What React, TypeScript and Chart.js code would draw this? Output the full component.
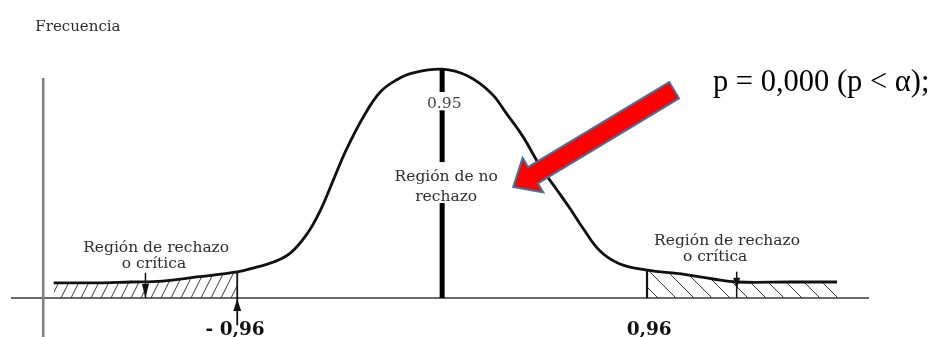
import React, { useEffect, useRef } from "react";
import { Chart, registerables } from "chart.js";

Chart.register(...registerables);

// Curve (x in z units, y in relative frequency, peak = 1)
const curveX = [
  -1.82, -1.65, -1.46, -1.31, -1.15, -0.96, -0.87, -0.79, -0.71, -0.63, -0.57, -0.51, -0.45, -0.37, -0.29,
  -0.21, -0.14, 0, 0.12, 0.23, 0.3, 0.38, 0.46, 0.54, 0.6, 0.66, 0.74, 0.83, 0.96, 1.12, 1.27, 1.38, 1.63, 1.85,
];
const curveY = [
  0.066, 0.066, 0.07, 0.074, 0.092, 0.114, 0.135, 0.157, 0.197, 0.284, 0.384, 0.515, 0.646, 0.79, 0.9,
  0.955, 0.983, 1.0, 0.97, 0.895, 0.808, 0.703, 0.575, 0.47, 0.39, 0.305, 0.205, 0.15, 0.122, 0.105, 0.083,
  0.07, 0.07, 0.07,
];
const CRIT = 0.96;
const criticalLabels = ["- 0,96", "0,96"];
const centerLabel = "0.95";
const centerRegion = ["Región de no", "rechazo"];
const tailRegion = ["Región de rechazo", "o crítica"];
const yTitle = "Frecuencia";
const pText = "p = 0,000 (p < α);";

const X_MIN = -2.02;
const X_MAX = 2.0;
const Y_MIN = 0;
const Y_MAX = 1.04;

const SERIF = "'DejaVu Serif', serif";

function makeHatch(w: number, h: number, lines: number[][], color: string, lw: number) {
  const c = document.createElement("canvas");
  c.width = w;
  c.height = h;
  const g = c.getContext("2d")!;
  g.strokeStyle = color;
  g.lineWidth = lw;
  for (const [x1, y1, x2, y2] of lines) {
    g.beginPath();
    g.moveTo(x1, y1);
    g.lineTo(x2, y2);
    g.stroke();
  }
  return g.createPattern(c, "repeat")!;
}

function headAt(ctx: CanvasRenderingContext2D, tx: number, ty: number, dx: number, dy: number, len: number, w: number) {
  const n = Math.hypot(dx, dy);
  const ux = dx / n;
  const uy = dy / n;
  const bx = tx - ux * len;
  const by = ty - uy * len;
  ctx.beginPath();
  ctx.moveTo(tx, ty);
  ctx.lineTo(bx - uy * w / 2, by + ux * w / 2);
  ctx.lineTo(bx + uy * w / 2, by - ux * w / 2);
  ctx.closePath();
  ctx.fill();
}

const diagramPlugin = {
  id: "diagram",
  beforeDatasetsDraw(chart: any) {
    const { ctx, scales } = chart;
    const xs = scales.x;
    const ys = scales.y;
    ctx.save();
    ctx.strokeStyle = "#6a6a6a";
    ctx.lineWidth = 2;
    ctx.beginPath();
    ctx.moveTo(xs.left, ys.getPixelForValue(0));
    ctx.lineTo(xs.right, ys.getPixelForValue(0));
    ctx.stroke();
    ctx.strokeStyle = "#808080";
    ctx.lineWidth = 2.5;
    ctx.beginPath();
    ctx.moveTo(xs.getPixelForValue(-1.869), ys.getPixelForValue(0.961));
    ctx.lineTo(xs.getPixelForValue(-1.869), ys.getPixelForValue(-0.2));
    ctx.stroke();
    ctx.restore();
  },
  afterDatasetsDraw(chart: any) {
    const { ctx, scales } = chart;
    const xs = scales.x;
    const ys = scales.y;
    const X = (v: number) => xs.getPixelForValue(v);
    const Y = (v: number) => ys.getPixelForValue(v);
    const yAtCrit = (sign: number) => curveY[curveX.indexOf(sign * CRIT)];
    ctx.save();

    ctx.strokeStyle = "#000";
    ctx.lineWidth = 5;
    const segs = [
      [1.0, 0.9],
      [0.82, 0.594],
      [0.415, 0],
    ];
    for (const [a, b] of segs) {
      ctx.beginPath();
      ctx.moveTo(X(0), Y(a));
      ctx.lineTo(X(0), Y(b));
      ctx.stroke();
    }

    ctx.strokeStyle = "#111";
    ctx.fillStyle = "#111";
    ctx.lineWidth = 1.8;
    ctx.beginPath();
    ctx.moveTo(X(-CRIT), Y(yAtCrit(-1)));
    ctx.lineTo(X(-CRIT), Y(-0.12));
    ctx.stroke();
    headAt(ctx, X(-CRIT), Y(0) + 1, 0, -1, 12, 8);
    ctx.lineWidth = 2.2;
    ctx.beginPath();
    ctx.moveTo(X(CRIT), Y(yAtCrit(1)));
    ctx.lineTo(X(CRIT), Y(0));
    ctx.stroke();

    ctx.lineWidth = 1.5;
    ctx.beginPath();
    ctx.moveTo(X(-1.39), Y(0.11));
    ctx.lineTo(X(-1.39), Y(0));
    ctx.stroke();
    headAt(ctx, X(-1.39), Y(0), 0, 1, 14, 7);
    ctx.beginPath();
    ctx.moveTo(X(1.38), Y(0.115));
    ctx.lineTo(X(1.38), Y(0));
    ctx.stroke();
    headAt(ctx, X(1.38), Y(0.04), 0, 1, 11, 7);

    ctx.textBaseline = "alphabetic";
    ctx.fillStyle = "#2e2e2e";
    ctx.font = `15px ${SERIF}`;
    ctx.textAlign = "left";
    ctx.fillText(yTitle, X(-1.906), Y(1.166));

    ctx.font = `15.5px ${SERIF}`;
    ctx.textAlign = "center";
    ctx.fillStyle = "#444";
    ctx.fillText(centerLabel, X(0.01), Y(0.83));
    ctx.fillStyle = "#2e2e2e";
    ctx.fillText(centerRegion[0], X(0.019), Y(0.511));
    ctx.fillText(centerRegion[1], X(0.019), Y(0.424));

    ctx.fillText(tailRegion[0], X(-1.34), Y(0.201));
    ctx.fillText(tailRegion[1], X(-1.35), Y(0.131));
    ctx.fillText(tailRegion[0], X(1.335), Y(0.231));
    ctx.fillText(tailRegion[1], X(1.279), Y(0.162));

    ctx.fillStyle = "#111";
    ctx.font = `bold 18.5px ${SERIF}`;
    ctx.fillText(criticalLabels[0], X(-CRIT - 0.01), Y(-0.162));
    ctx.fillText(criticalLabels[1], X(CRIT + 0.01), Y(-0.162));

    const tx0 = X(1.087);
    const ty0 = Y(0.908);
    const tx1 = X(0.333);
    const ty1 = Y(0.485);
    const dx = tx1 - tx0;
    const dy = ty1 - ty0;
    const n = Math.hypot(dx, dy);
    const ux = dx / n;
    const uy = dy / n;
    const px = -uy;
    const py = ux;
    const sw = 19;
    const hw = 40;
    const hl = 23;
    const bx = tx1 - ux * hl;
    const by = ty1 - uy * hl;
    ctx.beginPath();
    ctx.moveTo(tx0 + px * sw / 2, ty0 + py * sw / 2);
    ctx.lineTo(bx + px * sw / 2, by + py * sw / 2);
    ctx.lineTo(bx + px * hw / 2, by + py * hw / 2);
    ctx.lineTo(tx1, ty1);
    ctx.lineTo(bx - px * hw / 2, by - py * hw / 2);
    ctx.lineTo(bx - px * sw / 2, by - py * sw / 2);
    ctx.lineTo(tx0 - px * sw / 2, ty0 - py * sw / 2);
    ctx.closePath();
    ctx.fillStyle = "#ff0000";
    ctx.fill();
    ctx.strokeStyle = "#41719c";
    ctx.lineWidth = 2;
    ctx.lineJoin = "miter";
    ctx.stroke();

    ctx.fillStyle = "#000";
    ctx.font = `30.5px 'Liberation Serif', 'Times New Roman', serif`;
    ctx.textAlign = "left";
    ctx.fillText(pText, X(1.269), Y(0.904));

    ctx.restore();
  },
};

export default function App() {
  const ref = useRef<HTMLCanvasElement | null>(null);
  useEffect(() => {
    if (!ref.current) return;
    const leftHatch = makeHatch(10, 20, [[0, 20, 10, 0], [-10, 20, 0, 0], [10, 20, 20, 0]], "#3a3a3a", 1);
    const rightHatch = makeHatch(18, 18, [[0, 0, 18, 18], [-18, 0, 0, 18], [18, 0, 36, 18]], "#3a3a3a", 1);
    const pts = curveX.map((x, i) => ({ x, y: curveY[i] }));
    const leftTail = pts.filter((p) => p.x <= -CRIT);
    const rightTail = pts.filter((p) => p.x >= CRIT);
    const chart = new Chart(ref.current, {
      type: "line",
      data: {
        datasets: [
          {
            data: pts,
            borderColor: "#111",
            borderWidth: 2.8,
            pointRadius: 0,
            fill: false,
            tension: 0.4,
          },
          {
            data: leftTail,
            borderWidth: 0,
            borderColor: "rgba(0,0,0,0)",
            backgroundColor: leftHatch as any,
            pointRadius: 0,
            fill: "origin",
            tension: 0.4,
          },
          {
            data: rightTail,
            borderWidth: 0,
            borderColor: "rgba(0,0,0,0)",
            backgroundColor: rightHatch as any,
            pointRadius: 0,
            fill: "origin",
            tension: 0.4,
          },
        ],
      },
      options: {
        responsive: false,
        animation: false,
        events: [],
        layout: { padding: { left: 11, right: 75, top: 60, bottom: 39 } },
        plugins: { legend: { display: false }, tooltip: { enabled: false } },
        scales: {
          x: { type: "linear", min: X_MIN, max: X_MAX, display: false },
          y: { type: "linear", min: Y_MIN, max: Y_MAX, display: false },
        },
      },
      plugins: [diagramPlugin],
    });
    return () => chart.destroy();
  }, []);
  return (
    <div style={{ position: "fixed", left: 0, top: 0, width: 944, height: 337, background: "#fff" }}>
      <canvas ref={ref} width={944} height={337} style={{ display: "block" }} />
    </div>
  );
}
